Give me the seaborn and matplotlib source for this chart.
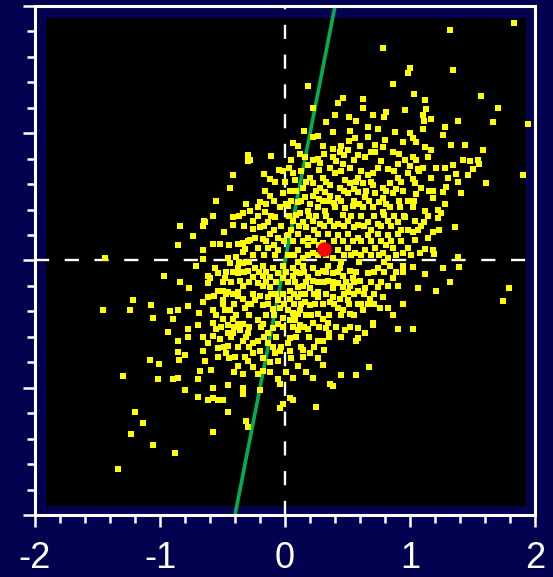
import numpy as np
import pandas as pd
import matplotlib.pyplot as plt
import seaborn as sns
from matplotlib.patches import Rectangle
from matplotlib.ticker import MultipleLocator

# yellow points, (x, y), grouped by area of the plot
pts_left_up = [
    (-0.30, 0.83), (-0.30, 0.78), (-0.42, 0.67), (-0.44, 0.57), (-0.34, 0.37), (-0.37, 0.35),
    (-0.42, 0.34), (-0.42, 0.28), (-0.58, 0.35), (-0.65, 0.31), (-0.64, 0.30), (-0.66, 0.27),
    (-0.84, 0.27), (-0.86, 0.12), (-0.66, 0.08), (-0.58, 0.13), (-0.52, 0.13), (-0.38, 0.13),
    (-0.34, 0.14), (-0.37, 0.13), (-0.32, 0.09), (-0.34, 0.07), (-0.39, 0.03), (-0.46, 0.02),
    (-1.44, 0.02),
]

pts_right_up = [
    (1.83, 1.87), (1.32, 1.81), (1.34, 1.50), (1.00, 1.51), (1.03, 1.31), (1.57, 1.29),
    (1.70, 1.20), (1.12, 1.26), (1.13, 1.19), (1.10, 1.14), (1.11, 1.10), (1.17, 1.11),
    (1.38, 1.10), (1.66, 1.09), (1.94, 1.07), (1.28, 1.05), (1.10, 1.03), (1.26, 0.99),
    (1.02, 0.96), (1.05, 0.93), (1.33, 0.91), (1.44, 0.91), (1.12, 0.89), (1.17, 0.87),
    (1.58, 0.87), (1.02, 0.81), (1.14, 0.81), (1.42, 0.79), (1.48, 0.78), (1.54, 0.79),
    (1.55, 0.76), (1.50, 0.72), (1.34, 0.75), (1.28, 0.73), (1.21, 0.73), (1.10, 0.73),
    (1.06, 0.72), (1.00, 0.74), (1.37, 0.68), (1.46, 0.67), (1.90, 0.67), (1.61, 0.61),
    (1.38, 0.62), (1.30, 0.65), (1.17, 0.65), (1.02, 0.64), (1.29, 0.58), (1.09, 0.57),
    (1.41, 0.53), (1.26, 0.54), (1.18, 0.55), (1.05, 0.52), (1.18, 0.49), (1.28, 0.44),
    (1.02, 0.42), (1.12, 0.39), (1.22, 0.40), (1.25, 0.37), (1.14, 0.35), (1.22, 0.33),
    (1.04, 0.31), (1.11, 0.30), (1.06, 0.24), (1.36, 0.26), (1.23, 0.24), (1.18, 0.22),
    (1.02, 0.22), (1.14, 0.18), (1.04, 0.16), (1.12, 0.09), (1.18, 0.08), (1.19, 0.05),
    (1.08, 0.06), (1.38, 0.03),
]

pts_right_low = [
    (1.02, -0.05), (1.12, -0.11), (1.26, -0.06), (1.39, -0.05), (1.06, -0.22), (1.21, -0.24),
    (1.32, -0.17), (1.79, -0.22), (1.74, -0.32), (1.02, -0.54),
]

pts_left_low = [
    (-1.46, -0.39), (-1.24, -0.39), (-1.22, -0.31), (-1.07, -0.35), (-1.06, -0.45), (-0.84, -0.17),
    (-0.92, -0.40), (-0.86, -0.39), (-0.78, -0.36), (-0.90, -0.46), (-0.94, -0.56), (-0.78, -0.54),
    (-0.70, -0.51), (-0.86, -0.63), (-0.86, -0.72), (-0.80, -0.74), (-0.85, -0.78), (-1.08, -0.78),
    (-1.01, -0.81), (-1.30, -0.91), (-1.02, -0.93), (-0.90, -0.93), (-0.86, -0.92), (-0.80, -1.02),
    (-0.70, -1.07), (-0.62, -1.10), (-0.58, -1.08), (-0.54, -1.10), (-0.50, -1.10), (-0.46, -1.19),
    (-1.20, -1.19), (-1.14, -1.28), (-1.23, -1.36), (-1.06, -1.45), (-0.88, -1.51), (-0.58, -1.35),
    (-1.34, -1.64), (-0.31, -1.26), (-0.30, -1.31), (-0.46, -0.98), (-0.34, -1.00), (-0.34, -1.05),
    (-0.68, -0.87), (-0.70, -0.93), (-0.58, -1.00), (-0.64, -0.79), (-0.59, -0.86), (-0.54, -0.76),
    (-0.54, -0.69), (-0.47, -0.73), (-0.46, -0.67), (-0.40, -0.76), (-0.38, -0.83), (-0.34, -0.89),
    (-0.32, -0.76), (-0.38, -0.68), (-0.34, -0.63), (-0.30, -0.57), (-0.36, -0.55), (-0.42, -0.57),
    (-0.46, -0.51), (-0.46, -0.57), (-0.52, -0.62), (-0.58, -0.59), (-0.55, -0.54), (-0.66, -0.60),
    (-0.66, -0.71), (-0.62, -0.65), (-0.58, -0.49), (-0.50, -0.46), (-0.42, -0.46), (-0.38, -0.50),
    (-0.34, -0.50), (-0.44, -0.39), (-0.48, -0.39), (-0.58, -0.39), (-0.66, -0.33), (-0.62, -0.29),
    (-0.50, -0.31), (-0.50, -0.34), (-0.42, -0.26), (-0.38, -0.25), (-0.34, -0.30), (-0.30, -0.34),
    (-0.32, -0.37), (-0.54, -0.24), (-0.50, -0.24), (-0.46, -0.25), (-0.38, -0.28), (-0.62, -0.18),
    (-0.60, -0.14), (-0.62, -0.12), (-0.54, -0.10), (-0.48, -0.14), (-0.50, -0.17), (-0.56, -0.06),
    (-0.38, -0.10), (-0.36, -0.16), (-0.34, -0.20), (-0.42, -0.09), (-0.38, -0.06), (-0.30, -0.08),
    (-0.34, -0.02), (-0.44, -0.02), (-0.30, -0.79),
    (-0.71, -0.04), (-0.77, -0.22), (-0.69, -0.41), (-0.57, -0.28), (-0.66, 0.01), (-0.74, 0.19),
    (-0.49, 0.22), (-0.55, 0.47), (-0.78, -0.60), (-0.97, -0.12),
]

pts_center_low = [
    (0.04, -1.08), (0.06, -1.10), (-0.04, -1.16), (-0.02, -1.13), (0.25, -1.15), (0.36, -0.97),
    (0.38, -0.99), (0.22, -0.92), (0.06, -0.92), (-0.06, -0.93), (-0.04, -0.97), (0.30, -0.82),
    (0.10, -0.83), (0.45, -0.90), (0.57, -0.90), (0.67, -0.84), (0.14, -0.76), (0.20, -0.73),
    (0.14, -0.70), (0.31, -0.70), (0.30, -0.63), (0.26, -0.63), (0.57, -0.63), (0.58, -0.61),
    (0.64, -0.57), (0.48, -0.55), (0.35, -0.57), (0.33, -0.53), (0.70, -0.51), (0.90, -0.54),
    (0.70, -0.49), (0.58, -0.53), (0.52, -0.42), (0.62, -0.39), (0.86, -0.43), (0.94, -0.34),
    (0.82, -0.37), (0.68, -0.30), (0.50, -0.25), (0.58, -0.34), (0.66, -0.34), (0.82, -0.20),
    (0.90, -0.20), (0.86, -0.14), (0.94, -0.09), (0.94, -0.04), (0.84, -0.04), (0.74, -0.06),
    (0.66, -0.10), (0.60, -0.16), (0.54, -0.14), (0.46, -0.12), (0.52, -0.08), (0.44, -0.06),
    (0.38, -0.10), (0.34, -0.16), (0.38, -0.22), (0.26, -0.25), (0.22, -0.16), (0.36, -0.33),
    (0.42, -0.37), (0.46, -0.39), (0.30, -0.34), (0.26, -0.29), (0.20, -0.35), (0.16, -0.33),
    (0.12, -0.39), (0.06, -0.41), (0.26, -0.42), (0.30, -0.46), (0.34, -0.49), (0.22, -0.49),
    (0.18, -0.54), (0.12, -0.51), (0.10, -0.55), (0.04, -0.61), (0.02, -0.65), (0.04, -0.71),
    (-0.04, -0.71), (-0.08, -0.73), (-0.06, -0.79), (-0.12, -0.80), (-0.10, -0.68), (-0.14, -0.65),
    (-0.20, -0.71), (-0.22, -0.63), (-0.26, -0.65), (-0.26, -0.73), (-0.26, -0.84), (-0.22, -0.89),
    (-0.18, -0.87), (-0.20, -1.02), (-0.14, -0.57), (-0.10, -0.53), (-0.18, -0.50), (-0.22, -0.47),
    (-0.06, -0.50), (-0.02, -0.45), (0.04, -0.47), (0.08, -0.47), (0.10, -0.42), (0.02, -0.39),
    (-0.04, -0.37), (-0.10, -0.38), (-0.18, -0.35), (-0.24, -0.31), (-0.20, -0.28), (-0.14, -0.29),
    (-0.06, -0.31), (-0.02, -0.26), (0.04, -0.24), (0.10, -0.21), (0.14, -0.20), (0.20, -0.22),
    (0.16, -0.26), (0.10, -0.29), (0.04, -0.30), (-0.12, -0.21), (-0.18, -0.20), (-0.22, -0.18),
    (-0.26, -0.13), (-0.18, -0.12), (-0.12, -0.13), (-0.06, -0.10), (-0.02, -0.14), (0.06, -0.12),
    (0.12, -0.10), (0.18, -0.13), (0.26, -0.10), (0.30, -0.08), (0.22, -0.06), (0.14, -0.04),
    (0.06, -0.06), (-0.02, -0.04), (-0.10, -0.06), (-0.18, -0.04), (-0.24, -0.06), (0.34, -0.04),
    (0.42, -0.18), (0.46, -0.21), (0.52, -0.20), (0.58, -0.24), (0.64, -0.22), (0.74, -0.21),
    (0.78, -0.29), (0.76, -0.37), (0.38, -0.29), (0.44, -0.30), (0.50, -0.31),
]

pts_center_up = [
    (0.78, 1.67), (0.98, 1.47), (0.86, 1.39), (0.18, 1.37), (0.46, 1.28), (0.42, 1.24),
    (0.62, 1.27), (0.62, 1.20), (0.96, 1.18), (0.81, 1.17), (0.79, 1.13), (0.51, 1.13),
    (0.57, 1.10), (0.33, 1.09), (0.22, 1.20), (0.66, 1.05), (0.38, 1.01), (0.22, 0.97),
    (0.06, 0.92), (0.26, 0.98), (0.51, 0.94), (0.56, 0.96), (0.66, 0.97), (0.80, 0.95),
    (0.94, 0.93), (1.00, 1.00), (0.78, 0.89), (0.86, 0.85), (0.72, 0.85), (0.64, 0.81),
    (0.58, 0.83), (0.50, 0.87), (0.44, 0.85), (0.38, 0.88), (0.38, 0.81), (0.28, 0.77),
    (0.26, 0.80), (0.18, 0.75), (0.16, 0.81), (-0.28, 0.79), (-0.11, 0.82), (-0.05, 0.71),
    (-0.17, 0.68), (-0.12, 0.64), (0.03, 0.73), (0.06, 0.69), (0.08, 0.63), (0.20, 0.65),
    (0.30, 0.65), (0.36, 0.73), (0.40, 0.69), (0.46, 0.76), (0.52, 0.73), (0.58, 0.65),
    (0.66, 0.67), (0.74, 0.73), (0.82, 0.72), (0.90, 0.76), (0.96, 0.79), (0.98, 0.69),
    (0.90, 0.65), (0.84, 0.61), (0.78, 0.57), (0.70, 0.59), (0.62, 0.61), (0.52, 0.61),
    (0.44, 0.57), (0.36, 0.59), (0.28, 0.57), (0.22, 0.61), (0.14, 0.57), (0.04, 0.55),
    (-0.02, 0.53), (-0.12, 0.51), (-0.20, 0.46), (-0.22, 0.42), (-0.16, 0.38), (-0.28, 0.39),
    (-0.26, 0.31), (-0.20, 0.26), (-0.14, 0.30), (-0.08, 0.34), (-0.04, 0.42), (0.02, 0.43),
    (0.10, 0.46), (0.16, 0.50), (0.22, 0.51), (0.30, 0.47), (0.36, 0.51), (0.42, 0.49),
    (0.50, 0.53), (0.58, 0.54), (0.64, 0.50), (0.72, 0.53), (0.78, 0.49), (0.86, 0.53),
    (0.94, 0.55), (0.98, 0.47), (0.92, 0.42), (0.84, 0.42), (0.78, 0.38), (0.70, 0.42),
    (0.62, 0.42), (0.54, 0.43), (0.48, 0.41), (0.40, 0.42), (0.32, 0.39), (0.26, 0.42),
    (0.18, 0.39), (0.12, 0.37), (0.06, 0.31), (0.14, 0.30), (0.22, 0.31), (0.28, 0.29),
    (0.36, 0.31), (0.42, 0.29), (0.50, 0.31), (0.58, 0.28), (0.66, 0.30), (0.74, 0.29),
    (0.82, 0.31), (0.90, 0.30), (0.96, 0.34), (0.98, 0.24), (0.90, 0.21), (0.82, 0.20),
    (0.74, 0.21), (0.66, 0.20), (0.58, 0.18), (0.50, 0.21), (0.42, 0.20), (0.34, 0.21),
    (0.26, 0.21), (0.18, 0.18), (0.10, 0.21), (0.02, 0.20), (-0.06, 0.18), (-0.12, 0.21),
    (-0.18, 0.17), (-0.24, 0.18), (-0.22, 0.10), (-0.14, 0.10), (-0.06, 0.08), (0.10, 0.08),
    (0.18, 0.12), (0.22, 0.06), (0.42, 0.08), (0.50, 0.10), (0.56, 0.06), (0.64, 0.08),
    (0.72, 0.10), (0.78, 0.06), (0.86, 0.10), (0.94, 0.06), (0.98, 0.10), (-0.28, 0.16),
    (-0.26, 0.25), (0.14, 0.02), (0.38, 0.02), (0.82, 0.02),
]

# the packed core, where single dots run together in the picture
pts_core = [
    (0.10, 0.90), (0.30, 0.90), (0.45, 0.90), (0.60, 0.90), (0.72, 0.91),
    (0.15, 1.02), (0.52, 1.02), (0.74, 1.03), (0.88, 1.01), (0.40, 1.14), (0.70, 1.14),
    (0.12, 0.84), (0.31, 0.84), (0.47, 0.83), (0.69, 0.85), (0.91, 0.84),
    (0.05, 0.79), (0.22, 0.79), (0.41, 0.78), (0.55, 0.79), (0.77, 0.78), (1.05, 0.79),
    (-0.02, 0.70), (0.13, 0.70), (0.27, 0.71), (0.45, 0.70), (0.61, 0.70), (0.70, 0.69),
    (0.87, 0.70), (1.07, 0.70),
    (-0.08, 0.62), (0.00, 0.62), (0.17, 0.62), (0.33, 0.62), (0.48, 0.63), (0.57, 0.62),
    (0.69, 0.62), (0.93, 0.62), (1.04, 0.61),
    (-0.16, 0.55), (0.09, 0.55), (0.25, 0.55), (0.32, 0.54), (0.47, 0.55), (0.55, 0.56),
    (0.65, 0.55), (0.81, 0.55), (0.89, 0.56), (1.15, 0.55),
    (-0.09, 0.47), (0.05, 0.47), (0.13, 0.47), (0.27, 0.48), (0.35, 0.47), (0.45, 0.47),
    (0.55, 0.47), (0.67, 0.47), (0.75, 0.46), (0.91, 0.47), (1.03, 0.47),
    (-0.31, 0.44), (-0.15, 0.44), (0.01, 0.44), (0.20, 0.44), (0.39, 0.45), (0.59, 0.44),
    (0.81, 0.44),
    (-0.22, 0.35), (-0.11, 0.35), (0.03, 0.35), (0.09, 0.36), (0.19, 0.35), (0.25, 0.35),
    (0.33, 0.35), (0.46, 0.36), (0.53, 0.35), (0.61, 0.35), (0.71, 0.35), (0.79, 0.36),
    (0.87, 0.35), (0.95, 0.35),
    (-0.33, 0.27), (-0.17, 0.27), (-0.03, 0.27), (0.11, 0.27), (0.17, 0.26), (0.31, 0.27),
    (0.39, 0.27), (0.47, 0.27), (0.55, 0.26), (0.63, 0.27), (0.77, 0.27), (0.85, 0.27),
    (1.09, 0.27),
    (-0.09, 0.24), (0.05, 0.24), (0.23, 0.24), (0.69, 0.24), (0.93, 0.24),
    (-0.30, 0.15), (-0.15, 0.15), (-0.01, 0.15), (0.06, 0.15), (0.14, 0.15), (0.23, 0.15),
    (0.30, 0.14), (0.39, 0.15), (0.46, 0.15), (0.54, 0.15), (0.61, 0.15), (0.69, 0.15),
    (0.77, 0.15), (0.85, 0.15), (0.93, 0.15),
    (-0.45, 0.12), (-0.09, 0.12), (0.27, 0.12), (0.81, 0.12),
    (-0.26, 0.04), (-0.17, 0.04), (-0.08, 0.04), (0.02, 0.04), (0.07, 0.04), (0.18, 0.04),
    (0.26, 0.04), (0.33, 0.04), (0.47, 0.04), (0.53, 0.04), (0.61, 0.04), (0.69, 0.04),
    (0.75, 0.04), (0.89, 0.04), (1.01, 0.04),
    (-0.37, -0.01), (-0.29, -0.01), (0.10, -0.01), (0.45, -0.01), (0.59, -0.01), (0.79, -0.01),
    (-0.47, -0.09), (-0.33, -0.09), (-0.21, -0.09), (-0.15, -0.09), (0.01, -0.09), (0.09, -0.09),
    (0.15, -0.09), (0.33, -0.09), (0.42, -0.09), (0.57, -0.09), (0.71, -0.09), (0.79, -0.09),
    (0.89, -0.09),
    (-0.43, -0.17), (-0.29, -0.17), (-0.15, -0.17), (-0.07, -0.17), (0.02, -0.17), (0.08, -0.17),
    (0.17, -0.17), (0.26, -0.17), (0.31, -0.17), (0.38, -0.17), (0.49, -0.17), (0.55, -0.17),
    (0.69, -0.17), (0.77, -0.17),
    (-0.47, -0.26), (-0.26, -0.26), (-0.11, -0.26), (-0.07, -0.26), (0.07, -0.26), (0.13, -0.26),
    (0.23, -0.26), (0.33, -0.26), (0.47, -0.26), (0.55, -0.26), (0.63, -0.26), (0.71, -0.26),
    (-0.41, -0.34), (-0.27, -0.34), (-0.14, -0.34), (-0.01, -0.34), (0.07, -0.34), (0.13, -0.34),
    (0.24, -0.34), (0.39, -0.34), (0.51, -0.34), (0.61, -0.34), (0.71, -0.34),
    (-0.55, -0.43), (-0.39, -0.43), (-0.29, -0.43), (-0.15, -0.43), (-0.09, -0.43), (0.07, -0.43),
    (0.17, -0.43), (0.21, -0.43), (0.35, -0.43), (0.45, -0.43), (0.55, -0.43),
    (-0.51, -0.52), (-0.41, -0.52), (-0.29, -0.52), (-0.19, -0.52), (-0.02, -0.52), (0.06, -0.52),
    (0.15, -0.52), (0.27, -0.52), (0.41, -0.52), (0.52, -0.52),
    (-0.43, -0.60), (-0.31, -0.60), (-0.17, -0.60), (-0.07, -0.60), (0.09, -0.60), (0.19, -0.60),
    (0.35, -0.60), (0.45, -0.60),
    (-0.49, -0.68), (-0.29, -0.68), (-0.03, -0.68), (0.13, -0.68), (0.23, -0.68),
    (-0.45, -0.77), (-0.18, -0.77), (0.05, -0.77), (0.26, -0.77),
    (-0.41, -0.88), (-0.12, -0.88), (0.01, -0.88), (0.17, -0.88),
]

mean_x = [0.31]
mean_y = [0.09]

# regression line endpoints as read at the bottom and top of the frame
line_x = [-0.40, 0.40]
line_y = [-2.0, 2.0]

xticks = [-2, -1, 0, 1, 2]
xtick_labels = ['-2', '-1', '0', '1', '2']

navy = '#020250'

groups = {'lu': pts_left_up, 'ru': pts_right_up, 'rl': pts_right_low,
          'll': pts_left_low, 'cl': pts_center_low, 'cu': pts_center_up, 'core': pts_core}
df = pd.concat([pd.DataFrame(p, columns=['x', 'y']).assign(area=k) for k, p in groups.items()],
               ignore_index=True)

sns.set_style('ticks')
plt.rcParams['font.family'] = ['Liberation Sans', 'DejaVu Sans']

fig = plt.figure(figsize=(5.53, 5.77), dpi=100, facecolor=navy)
ax = fig.add_axes([0.0633, 0.1075, 0.9042, 0.8821])
ax.set_facecolor(navy)
ax.add_patch(Rectangle((0.022, 0.0177), 0.96, 0.958, transform=ax.transAxes,
                       facecolor='black', edgecolor='none', zorder=0))

ax.axhline(0, color='white', lw=1.7, ls=(0, (6.0, 6.6)), zorder=1)
ax.axvline(0, color='white', lw=1.7, ls=(0, (6.0, 6.6)), zorder=1)
ax.plot(line_x, line_y, color='#00b050', lw=2.6, zorder=2, solid_capstyle='butt')

sns.scatterplot(data=df, x='x', y='y', ax=ax, color='#ffff00', marker='s', s=13,
                linewidth=0, zorder=3, legend=False)
sns.scatterplot(x=mean_x, y=mean_y, ax=ax, color='#ff0000', s=110, linewidth=0, zorder=4)

ax.set_xlim(-2, 2)
ax.set_ylim(-2, 2)
ax.set_xticks(xticks)
ax.set_xticklabels(xtick_labels)
ax.set_yticks(xticks)
ax.set_yticklabels([])
ax.xaxis.set_minor_locator(MultipleLocator(0.2))
ax.yaxis.set_minor_locator(MultipleLocator(0.2))
ax.set_xlabel('')
ax.set_ylabel('')

for s in ax.spines.values():
    s.set_color('white')
    s.set_linewidth(2.2)
    s.set_visible(True)
ax.tick_params(which='major', direction='out', length=8.6, width=1.8, color='white')
ax.tick_params(which='minor', direction='out', length=5.6, width=1.8, color='white')
ax.tick_params(axis='x', labelsize=26, labelcolor='white', pad=10)

fig.savefig('out.png', dpi=100, facecolor=navy)
